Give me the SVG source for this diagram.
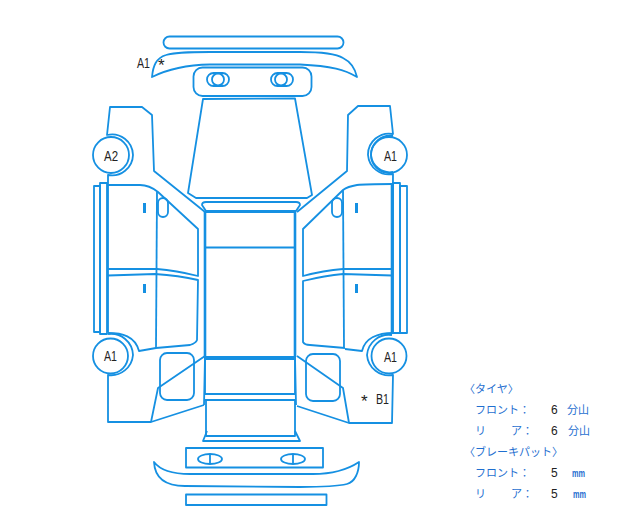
<svg xmlns="http://www.w3.org/2000/svg" width="625" height="525" viewBox="0 0 625 525">
<style>
.l{fill:none;stroke:#1590e2;stroke-width:1.8;stroke-linejoin:round}
.k{fill:#1590e2}
.t{font-family:"Liberation Sans",sans-serif;font-size:14px;fill:#222}
.a{font-family:"Liberation Sans",sans-serif;font-size:17px;fill:#222}
.j{font-family:"Noto Sans CJK JP","Liberation Sans",sans-serif;font-size:11px;fill:#1f6fd0}
.n{font-family:"Liberation Sans",sans-serif;font-size:12px;fill:#222}
.m{font-family:"Liberation Sans",sans-serif;font-size:10px;font-weight:bold;fill:#1f6fd0}
</style>
<rect width="625" height="525" fill="#fff"/>
<g id="connectors"/>
<g id="roof-top" class="l">
<rect x="163.500" y="36.500" width="180" height="12" rx="6"/>
<path d="M152 77C153 66 156 58 166 55C175 52 190 52 210 52L300 52C320 52 335 53 343 58C351 62 355 68 357 77C345 70 332 66 300 64.500L210 64.500C185 65 168 69 152 77Z"/>
<rect x="193.500" y="67.500" width="118" height="28.500" rx="9"/>
<rect x="207" y="73" width="22" height="13" rx="6.500"/>
<circle cx="218" cy="79.500" r="6"/>
<rect x="271" y="73" width="22" height="13" rx="6.500"/>
<circle cx="281" cy="79.500" r="6"/>
</g>
<g id="windshield" class="l"><path d="M203 99L295 98.500L312 195L307 198L196 198L188 193Z"/></g>
<g id="left-side" class="l">
<path d="M205 212L154 171L152 115L142 107L110 107L107 135A21 21 0 0 1 133 155A21 21 0 0 1 108 175L108 332"/>
<circle cx="111" cy="155" r="18"/>
<rect x="94" y="186" width="6" height="146"/>
<rect x="100" y="183" width="7" height="151"/>
<path d="M108 185L140 185C147 185 153 188 158 192L198 229L198 276C182 272 170 270 157 269L108 269"/>
<path d="M108 275.500L155 274C170 275 185 277 198 280L197 340C196 343 193 344 190 345L156 348"/>
<path d="M157 192L156 348"/>
<rect x="158" y="198" width="10" height="19" rx="5"/>
<rect class="k" x="143" y="203" width="3" height="10" stroke="none"/>
<rect class="k" x="143" y="284" width="3" height="9" stroke="none"/>
</g>
<g id="center-body" class="l">
<path d="M202 205Q202 202 206 202L296 202Q300 202 300 205L296 211L206 211Z"/>
<path d="M205 212L205 357M295 212L295 357" style="stroke-width:2.600"/>
<path d="M205 212L295 212M205 247.500L295 247.500"/>
<path d="M205 357L295 357L295 394L205 394ZM206 359L294 359"/>
<path d="M205 400L295 400L295 436L206 436L206 400"/>
<path d="M207 431L203 441L300 441L295 431"/>
<path d="M205 357L204 405M295 357L296 405"/>
</g>
<g id="right-side" class="l">
<path d="M297 212L347 171L348 115L358 106L390 106L393 134A21 21 0 0 0 368 155A21 21 0 0 0 393 174L392 332" />
<path d="M393 136A19 19 0 0 0 371 155A19 19 0 0 0 393 172"/>
<circle cx="389" cy="155" r="18"/>
<path d="M392 183L392 333" style="stroke-width:2.600"/>
<rect x="393" y="183" width="7" height="150"/>
<rect x="400" y="186" width="7" height="147"/>
<path d="M392 184C375 184 365 184 357 185C351 186 347 187 343 190L303 229L303 276C318 272 330 270 343 269L392 269"/>
<path d="M392 275.500L343 274C330 275 315 278 303 281L303 342C304 344 307 345 310 345L345 348"/>
<path d="M343 190L344 348"/>
<rect x="332" y="198" width="10" height="19" rx="5"/>
<rect class="k" x="355" y="203" width="3" height="10" stroke="none"/>
<rect class="k" x="355" y="284" width="3" height="9" stroke="none"/>
</g>
<g id="rear-left" class="l">
<circle cx="110.500" cy="356" r="17.500"/>
<path d="M108 334A22 22 0 0 1 133 355A22 22 0 0 1 108 375L108 422L151 422L204 405"/>
<path d="M108 333C122 333 135 336 139 351L156 348"/>
<path d="M205 356L158 388L151 422"/>
<rect x="160" y="353" width="34" height="47" rx="7"/>
</g>
<g id="rear-right" class="l">
<circle cx="389" cy="356" r="17.500"/>
<path d="M392 335A22 22 0 0 0 367 355A22 22 0 0 0 393 375L392 423L349 423L297 406"/>
<path d="M393 333C378 333 365 338 362 351L345 349"/>
<path d="M297 356L343 388L349 423"/>
<rect x="306" y="354" width="34" height="47" rx="7"/>
</g>
<g id="rear-end" class="l">
<rect x="186" y="448" width="137" height="19.500"/>
<ellipse cx="210" cy="459" rx="12" ry="5"/>
<path d="M210 454V464"/>
<ellipse cx="293" cy="459" rx="12" ry="5"/>
<path d="M293 454V464"/>
<path d="M154 462C160 470 172 474 190 474L313 474C330 474 347 470 359 462C359 472 355 482 347 484C335 487 320 487 300 487L185 486C170 486 155 482 154 462Z"/>
<rect x="186" y="494.500" width="140.500" height="10.500"/>
</g>
<g id="labels">
<text class="t" x="137" y="68" textLength="13" lengthAdjust="spacingAndGlyphs">A1</text><text class="a" x="158" y="71">*</text>
<text class="t" x="104" y="161" textLength="14" lengthAdjust="spacingAndGlyphs">A2</text>
<text class="t" x="384" y="161" textLength="13" lengthAdjust="spacingAndGlyphs">A1</text>
<text class="t" x="104" y="361" textLength="13" lengthAdjust="spacingAndGlyphs">A1</text>
<text class="t" x="384" y="362" textLength="13" lengthAdjust="spacingAndGlyphs">A1</text>
<text class="a" x="361" y="407">*</text><text class="t" x="376" y="404" textLength="13" lengthAdjust="spacingAndGlyphs">B1</text>
<text class="j" x="464" y="393">〈タイヤ〉</text>
<text class="j" x="475" y="414">フロント：</text><text class="n" x="551" y="414">6</text><text class="j" x="567" y="414">分山</text>
<text class="j" x="475" y="435">リ</text><text class="j" x="511" y="435">ア：</text><text class="n" x="551" y="435">6</text><text class="j" x="568" y="435">分山</text>
<text class="j" x="464" y="456">〈ブレーキパット〉</text>
<text class="j" x="475" y="477">フロント：</text><text class="n" x="551" y="477">5</text><text class="m" x="572" y="477" textLength="13" lengthAdjust="spacingAndGlyphs">mm</text>
<text class="j" x="475" y="498">リ</text><text class="j" x="511" y="498">ア：</text><text class="n" x="551" y="498">5</text><text class="m" x="573" y="498" textLength="13" lengthAdjust="spacingAndGlyphs">mm</text>
</g>
</svg>
